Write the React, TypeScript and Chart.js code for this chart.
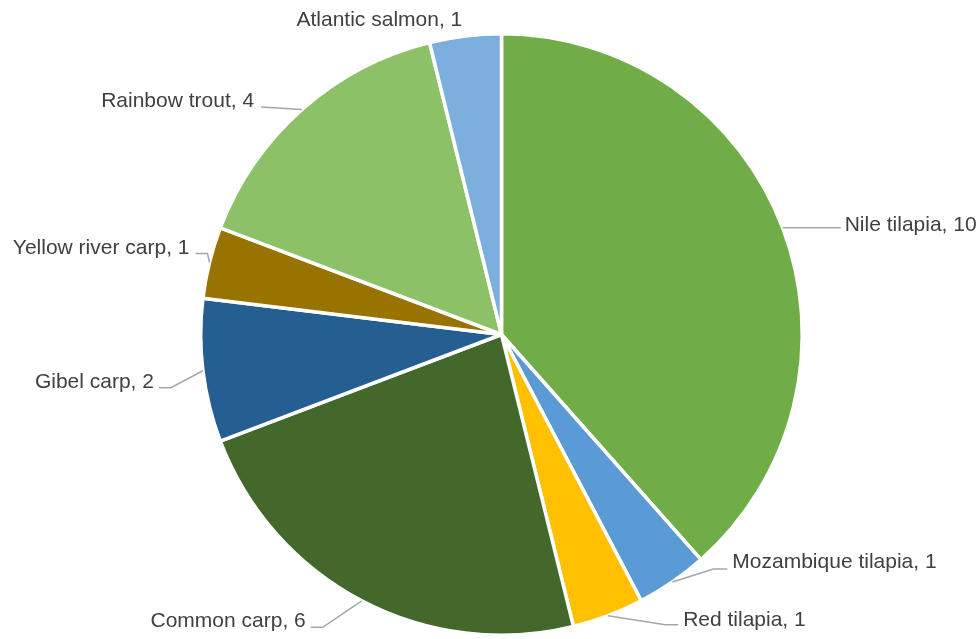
import React, { useEffect, useRef } from "react";
import { Chart, registerables } from "chart.js";

Chart.register(...registerables);

const categories = [
  "Nile tilapia",
  "Mozambique tilapia",
  "Red tilapia",
  "Common carp",
  "Gibel carp",
  "Yellow river carp",
  "Rainbow trout",
  "Atlantic salmon",
];
const counts = [10, 1, 1, 6, 2, 1, 4, 1];
const colors = [
  "#70AD47",
  "#5B9BD5",
  "#FFC000",
  "#43682B",
  "#255E91",
  "#997300",
  "#8CC168",
  "#7CAFDD",
];

// Label placement relative to the slice's outer mid-point: leader-line points, text offset and alignment
const labelLayout: { pts: [number, number][]; tx: number; ty: number; align: CanvasTextAlign }[] = [
  { pts: [[58, 0]], tx: 62, ty: 3, align: "left" },
  { pts: [[41, -13], [55, -13]], tx: 60, ty: -14, align: "left" },
  { pts: [[57, 9], [70, 9]], tx: 75, ty: 10.5, align: "left" },
  { pts: [[-39, 26.5], [-51, 26.5]], tx: -56, ty: 26.5, align: "right" },
  { pts: [[-32, 17], [-44, 17]], tx: -49, ty: 17, align: "right" },
  { pts: [[-2, -9], [-14, -9]], tx: -20, ty: -8.5, align: "right" },
  { pts: [[-41, -2.5]], tx: -48, ty: -2, align: "right" },
  { pts: [], tx: -3, ty: -10, align: "right" },
];

const labelPlugin = {
  id: "pieLabels",
  afterDraw(chart: any) {
    const ctx = chart.ctx as CanvasRenderingContext2D;
    const meta = chart.getDatasetMeta(0);
    ctx.save();
    ctx.font = '21px "Liberation Sans", Arial, sans-serif';
    ctx.textBaseline = "alphabetic";
    meta.data.forEach((arc: any, i: number) => {
      const p = arc.getProps(["x", "y", "startAngle", "endAngle", "outerRadius"], true);
      const mid = (p.startAngle + p.endAngle) / 2;
      const ex = p.x + Math.cos(mid) * p.outerRadius;
      const ey = p.y + Math.sin(mid) * p.outerRadius;
      const lay = labelLayout[i];
      if (lay.pts.length) {
        ctx.strokeStyle = "#A6A6A6";
        ctx.lineWidth = 1.5;
        ctx.beginPath();
        ctx.moveTo(ex, ey);
        lay.pts.forEach(([dx, dy]) => ctx.lineTo(ex + dx, ey + dy));
        ctx.stroke();
      }
      ctx.fillStyle = "#404040";
      ctx.textAlign = lay.align;
      ctx.fillText(`${categories[i]}, ${counts[i]}`, ex + lay.tx, ey + lay.ty);
    });
    ctx.restore();
  },
};

export default function App() {
  const ref = useRef<HTMLCanvasElement>(null);
  useEffect(() => {
    if (!ref.current) return;
    const chart = new Chart(ref.current, {
      type: "pie",
      data: {
        labels: categories,
        datasets: [
          {
            data: counts,
            backgroundColor: colors,
            borderColor: "#FFFFFF",
            borderWidth: 3.5,
          },
        ],
      },
      options: {
        responsive: false,
        animation: false,
        layout: { padding: { left: 199, right: 176, top: 32, bottom: 2 } },
        plugins: {
          legend: { display: false },
          tooltip: { enabled: false },
        },
      },
      plugins: [labelPlugin],
    });
    return () => chart.destroy();
  }, []);
  return (
    <div style={{ position: "absolute", left: 0, top: 0, width: 980, height: 639, background: "#fff" }}>
      <canvas ref={ref} width={980} height={639} />
    </div>
  );
}
